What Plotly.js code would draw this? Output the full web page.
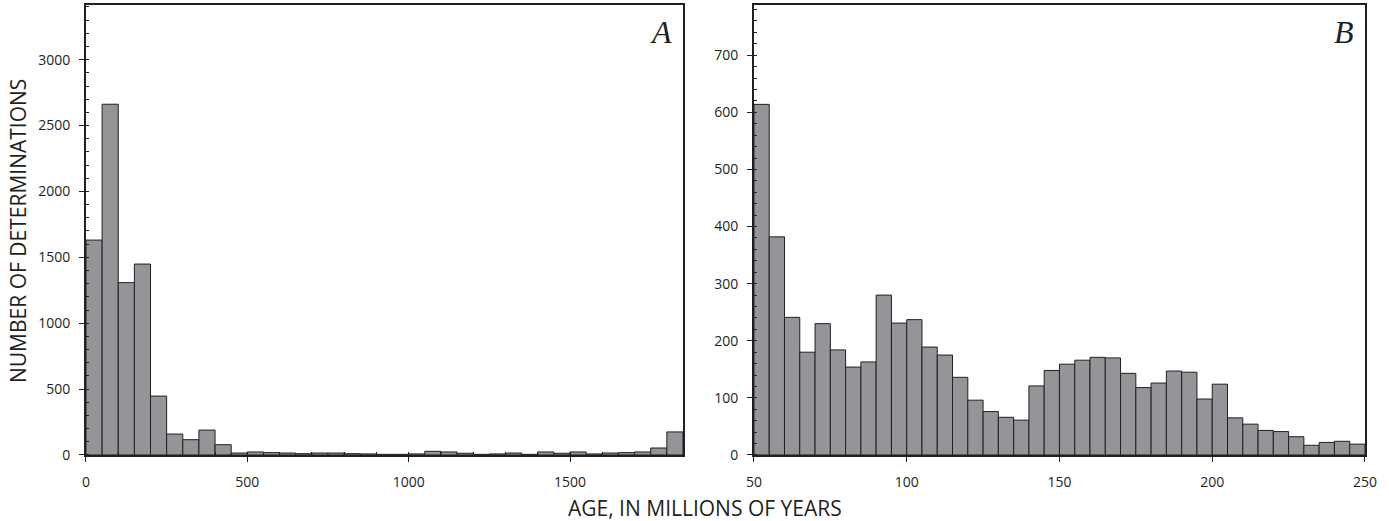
<!DOCTYPE html>
<html>
<head>
<meta charset="utf-8">
<script src="https://cdn.plot.ly/plotly-3.0.1.min.js"></script>
<style>html,body{margin:0;padding:0;background:#fff;}#chart{width:1389px;height:521px;}</style>
</head>
<body>
<div id="chart"></div>
<script>
// Panel A: 50-million-year bins from 0 to 1850 Ma
const binStartA = 0;
const binWidthA = 50;
const countsA = [1631, 2662, 1308, 1449, 447, 159, 116, 189, 78, 15,
                 23, 18, 15, 10, 15, 15, 10, 8, 5, 5,
                 8, 28, 23, 13, 5, 8, 15, 5, 23, 13,
                 23, 8, 15, 18, 23, 53, 175];
// Panel B: 5-million-year bins from 50 to 250 Ma
const binStartB = 50;
const binWidthB = 5;
const countsB = [614, 382, 241, 180, 230, 184, 154, 163, 280, 231,
                 237, 189, 175, 136, 96, 76, 66, 61, 121, 148,
                 159, 166, 171, 170, 143, 118, 126, 147, 145, 98,
                 124, 65, 54, 43, 41, 32, 17, 22, 24, 19];
const xTicksA = [0, 500, 1000, 1500];
const xTicksB = [50, 100, 150, 200, 250];
const yTicksA = [0, 500, 1000, 1500, 2000, 2500, 3000];
const yTicksB = [0, 100, 200, 300, 400, 500, 600, 700];

const centers = (start, w, n) => Array.from({length: n}, (_, i) => start + w * (i + 0.5));

const barFill = '#939598';
const ink = '#231f20';

const traceA = {
  type: 'bar', x: centers(binStartA, binWidthA, countsA.length), y: countsA,
  width: binWidthA, xaxis: 'x', yaxis: 'y',
  marker: {color: barFill, line: {color: ink, width: 1}}, hoverinfo: 'x+y'
};
const traceB = {
  type: 'bar', x: centers(binStartB, binWidthB, countsB.length), y: countsB,
  width: binWidthB, xaxis: 'x2', yaxis: 'y2',
  marker: {color: barFill, line: {color: ink, width: 1}}, hoverinfo: 'x+y'
};

const tickFont = {family: 'Open Sans, sans-serif', size: 14, color: ink};
const ydom = [0.1267, 0.9904];

function axisBase(extra) {
  return Object.assign({
    showline: true, linecolor: ink, linewidth: 2, mirror: true,
    showgrid: false, zeroline: false, ticks: 'outside', ticklen: 5, tickwidth: 1,
    tickcolor: ink, tickfont: tickFont, fixedrange: true
  }, extra);
}

const layout = {
  width: 1389, height: 521,
  margin: {l: 0, r: 0, t: 0, b: 0},
  paper_bgcolor: '#fff', plot_bgcolor: '#fff',
  showlegend: false, bargap: 0,
  xaxis: axisBase({domain: [0.0619, 0.4917], range: [0, 1850], tickmode: 'array', tickvals: xTicksA,
    ticklabelstandoff: 8,
    minor: {dtick: 100, ticks: 'inside', ticklen: 3, tickcolor: ink}, anchor: 'y'}),
  yaxis: axisBase({domain: ydom, range: [0, 3415], tickmode: 'array', tickvals: yTicksA,
    ticklabelstandoff: 6,
    minor: {tick0: 0, dtick: 100, ticks: 'inside', ticklen: 3, tickcolor: ink}, anchor: 'x'}),
  xaxis2: axisBase({domain: [0.5428, 0.9827], range: [50, 250], tickmode: 'array', tickvals: xTicksB,
    ticklabelstandoff: 8, anchor: 'y2'}),
  yaxis2: axisBase({domain: ydom, range: [0, 788], tickmode: 'array', tickvals: yTicksB,
    ticklabelstandoff: 6,
    minor: {tick0: 0, dtick: 20, ticks: 'inside', ticklen: 3, tickcolor: ink}, anchor: 'x2'}),
  annotations: [
    {text: '<i>A</i>', xref: 'x domain', yref: 'y domain', x: 0.985, y: 0.985, xanchor: 'right', yanchor: 'top',
     showarrow: false, font: {family: 'Liberation Serif, serif', size: 32, color: ink}},
    {text: '<i>B</i>', xref: 'x2 domain', yref: 'y2 domain', x: 0.985, y: 0.985, xanchor: 'right', yanchor: 'top',
     showarrow: false, font: {family: 'Liberation Serif, serif', size: 32, color: ink}},
    {text: 'NUMBER OF DETERMINATIONS', xref: 'paper', yref: 'paper', x: 18 / 1389, y: 1 - 231 / 521,
     xanchor: 'center', yanchor: 'middle', textangle: -90, showarrow: false,
     font: {family: 'Open Sans, sans-serif', size: 21, color: ink}},
    {text: 'AGE, IN MILLIONS OF YEARS', xref: 'paper', yref: 'paper', x: 705 / 1389, y: 1 - 508 / 521,
     xanchor: 'center', yanchor: 'middle', showarrow: false,
     font: {family: 'Open Sans, sans-serif', size: 21, color: ink}}
  ]
};

Plotly.newPlot('chart', [traceA, traceB], layout, {displayModeBar: false, staticPlot: true});
</script>
</body>
</html>
